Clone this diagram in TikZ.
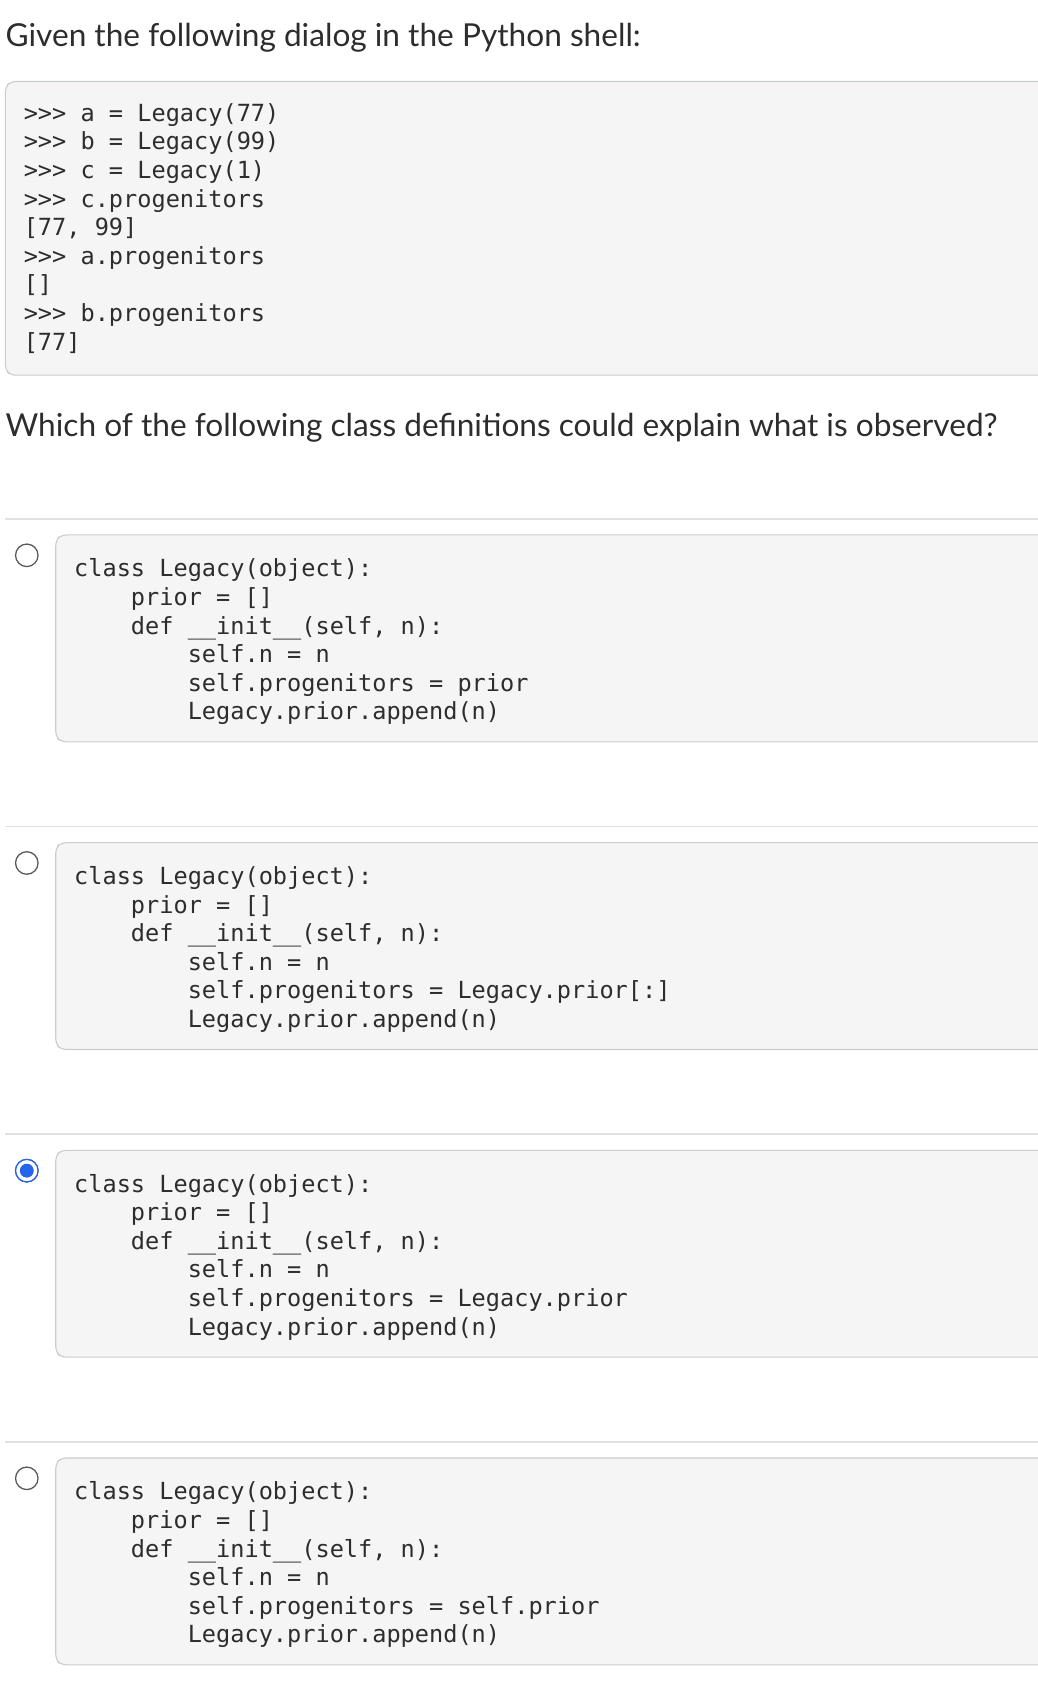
\documentclass[tikz,border=0pt]{standalone}
\usepackage{fontspec}
\setmainfont{Lato}
\newfontfamily\codefont{DejaVu Sans Mono}
\definecolor{code-bg}{RGB}{245,245,245}
\definecolor{code-line}{RGB}{199,205,209}
\definecolor{sep-line}{RGB}{225,225,225}
\definecolor{ink}{RGB}{45,45,45}
\definecolor{pick-blue}{RGB}{40,100,235}
\newcommand{\ind}{\phantom{xxxx}}
\newcommand{\uu}{\_\_}

\begin{document}
\begin{tikzpicture}[
        x=1pt, y=-1pt,
        every node/.style={inner sep=0pt, text=ink},
        heading/.style={font=\fontsize{29.5}{34}\selectfont, anchor=base west},
        code/.style={font=\codefont\fontsize{22}{26}\selectfont, anchor=base west},
        codebox/.style={draw=code-line, fill=code-bg, rounded corners=5pt, line width=1pt},
        radio/.style={draw=gray!70!black, line width=1.2pt, fill=white, circle, minimum size=21pt},
    ]
    \useasboundingbox (0,0) rectangle (968,1569);
    \node[heading] (q1) at (5,43) {Given the following dialog in the Python shell:};
    \draw[codebox] (975,76) -- (10,76) -- (5,81) -- (5,345) -- (10,350) -- (975,350);
    \foreach \ln [count=\k from 0] in {{>>> a = Legacy(77)},{>>> b = Legacy(99)},{>>> c = Legacy(1)},
        {>>> c.progenitors},{[77, 99]},{>>> a.progenitors},{[]},{>>> b.progenitors},{[77]}}
        \node[code] (shell\k) at (22,113+26.7*\k) {\ln};
    \node[heading] (q2) at (5,407) {Which of the following class definitions could explain what is observed?};
    % the four answers
    \foreach \ans/\rhs [count=\j from 0] in {a/prior, b/Legacy.prior[:], c/Legacy.prior, d/self.prior}{
        \draw[sep-line, line width=1.5pt] (5,484+287*\j) -- (968,484+287*\j);
        \node[radio] (r\ans) at (25,518+287*\j) {};
        \draw[codebox] (975,499+287*\j) -- (57,499+287*\j) -- (52,504+287*\j) -- (52,687+287*\j) -- (57,692+287*\j) -- (975,692+287*\j);
        \foreach \ln [count=\k from 0] in {{class Legacy(object):},{\ind prior = []},{\ind def \uu init\uu(self, n):},
            {\ind\ind self.n = n},{\ind\ind self.progenitors = \rhs},{\ind\ind Legacy.prior.append(n)}}
            \node[code] (\ans\k) at (69,538+287*\j+26.7*\k) {\ln};
    }
    \node[radio, draw=pick-blue] at (rc) {};
    \node[circle, fill=pick-blue, minimum size=13pt] (pick) at (rc) {};
\end{tikzpicture}
\end{document}
